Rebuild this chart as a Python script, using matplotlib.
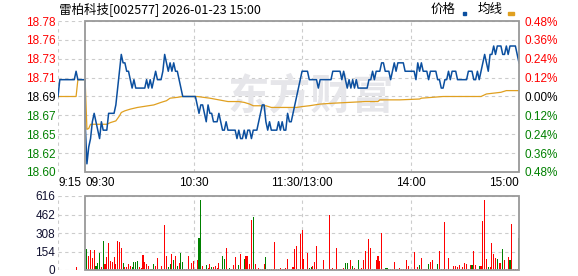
import matplotlib
matplotlib.use('Agg')
import matplotlib.pyplot as plt
from matplotlib.patches import Rectangle

plt.rcParams['font.family'] = ['Liberation Sans', 'DejaVu Sans']

prev_close = 18.69

# pre-market (9:15 - 9:30), minutes relative to 9:30
pre_t = [-15, -14, -6, -5, -4, 0]
pre_price = [18.69, 18.71, 18.71, 18.72, 18.71, 18.71]

# one price per minute, 9:30 (0) ... 15:00 (240)
price = [
    18.66, 18.61, 18.63, 18.64, 18.66, 18.67, 18.66, 18.65, 18.64, 18.66,
    18.65, 18.65, 18.65, 18.67, 18.67, 18.67, 18.67, 18.68, 18.70, 18.72,
    18.74, 18.73, 18.73, 18.72, 18.72, 18.71, 18.70, 18.71, 18.70, 18.70,
    18.70, 18.70, 18.70, 18.70, 18.71, 18.70, 18.71, 18.70, 18.71, 18.72,
    18.71, 18.71, 18.71, 18.72, 18.74, 18.73, 18.72, 18.73, 18.72, 18.73,
    18.72, 18.72, 18.71, 18.70, 18.69, 18.69, 18.69, 18.69, 18.69, 18.69,
    18.69, 18.69, 18.68, 18.67, 18.68, 18.68, 18.67, 18.66, 18.68, 18.67,
    18.67, 18.66, 18.66, 18.66, 18.67, 18.66, 18.65, 18.65, 18.66, 18.65,
    18.65, 18.65, 18.65, 18.65, 18.64, 18.65, 18.64, 18.64, 18.65, 18.64,
    18.65, 18.65, 18.64, 18.65, 18.65, 18.65, 18.66, 18.67, 18.68, 18.68,
    18.66, 18.65, 18.66, 18.65, 18.65, 18.65, 18.65, 18.66, 18.65, 18.66,
    18.65, 18.65, 18.67, 18.66, 18.66, 18.67, 18.68, 18.69, 18.70, 18.71,
    18.72, 18.72, 18.72, 18.72, 18.71, 18.71, 18.71, 18.71, 18.71, 18.70,
    18.71, 18.71, 18.71, 18.71, 18.71, 18.71, 18.71, 18.72, 18.72, 18.72,
    18.72, 18.72, 18.71, 18.72, 18.71, 18.70, 18.71, 18.70, 18.71, 18.70,
    18.71, 18.70, 18.70, 18.70, 18.70, 18.70, 18.70, 18.71, 18.71, 18.72,
    18.71, 18.72, 18.72, 18.72, 18.73, 18.73, 18.72, 18.72, 18.72, 18.71,
    18.72, 18.73, 18.72, 18.73, 18.73, 18.73, 18.73, 18.72, 18.72, 18.72,
    18.72, 18.72, 18.72, 18.71, 18.73, 18.72, 18.73, 18.72, 18.72, 18.72,
    18.71, 18.72, 18.72, 18.72, 18.72, 18.71, 18.71, 18.70, 18.70, 18.71,
    18.71, 18.72, 18.71, 18.72, 18.72, 18.72, 18.71, 18.71, 18.71, 18.71,
    18.71, 18.71, 18.72, 18.72, 18.72, 18.71, 18.71, 18.72, 18.71, 18.72,
    18.73, 18.74, 18.73, 18.72, 18.74, 18.74, 18.75, 18.74, 18.75, 18.75,
    18.75, 18.74, 18.74, 18.75, 18.74, 18.75, 18.75, 18.75, 18.75, 18.74,
    18.73,
]

# average price line, read at its turning points
avg_t = [-15, -5, -4, 0, 1, 2, 3, 12, 14, 17, 19, 20, 22, 25, 29, 35, 38, 42,
         45, 47, 51, 54, 62, 69, 74, 79, 85, 88, 91, 93, 100, 103, 117, 120,
         124, 130, 137, 146, 155, 162, 163, 174, 185, 186, 198, 219, 220, 222,
         226, 230, 233, 240]
avg_price = [18.69, 18.69, 18.71, 18.71, 18.651, 18.652, 18.657, 18.657,
             18.659, 18.661, 18.667, 18.671, 18.673, 18.675, 18.677, 18.679,
             18.680, 18.683, 18.685, 18.688, 18.689, 18.690, 18.690, 18.688,
             18.686, 18.684, 18.684, 18.683, 18.681, 18.679, 18.679, 18.677,
             18.677, 18.678, 18.679, 18.681, 18.682, 18.683, 18.684, 18.684,
             18.686, 18.686, 18.687, 18.688, 18.690, 18.690, 18.691, 18.693,
             18.694, 18.695, 18.697, 18.697]

# volume per minute, 9:31 (1) ... 15:00 (240), plus the 9:25 auction bar
auction_t = -5
auction_vol = 28
vol = [
    171, 114, 165, 103, 165, 37, 60, 145, 23, 242,
    46, 111, 222, 74, 66, 111, 51, 239, 231, 180,
    60, 28, 23, 51, 37, 28, 66, 66, 77, 28,
    17, 128, 68, 46, 37, 9, 9, 51, 37, 103,
    9, 37, 9, 376, 120, 28, 46, 137, 80, 120,
    34, 60, 145, 68, 9, 9, 120, 9, 60, 77,
    9, 85, 265, 581, 34, 9, 43, 17, 51, 26,
    26, 34, 17, 60, 9, 120, 94, 180, 9, 17,
    9, 43, 111, 9, 43, 137, 9, 94, 120, 120,
    51, 419, 445, 51, 9, 17, 9, 9, 51, 111,
    9, 9, 9, 9, 231, 9, 9, 17, 9, 9,
    17, 94, 9, 9, 26, 171, 197, 9, 299, 333,
    94, 9, 145, 17, 26, 34, 68, 197, 9, 9,
    9, 85, 9, 9, 462, 9, 17, 9, 180, 9,
    9, 9, 17, 60, 60, 9, 85, 34, 17, 9,
    85, 9, 17, 85, 162, 9, 256, 180, 9, 9,
    85, 120, 77, 308, 9, 17, 17, 9, 9, 9,
    68, 9, 9, 17, 9, 9, 9, 85, 34, 9,
    9, 154, 9, 26, 43, 103, 9, 9, 9, 51,
    68, 85, 9, 9, 51, 162, 9, 9, 402, 9,
    103, 9, 9, 34, 34, 26, 43, 9, 26, 60,
    51, 9, 43, 43, 162, 43, 9, 34, 34, 410,
    581, 94, 26, 26, 222, 137, 103, 94, 60, 60,
    171, 85, 9, 111, 85, 385, 9, 9, 9, 265,
]
vol_dir = ("grrrrgggrg" "rrrrrrrrrr" "grrrrggggr" "rrrrrgggrr" "grrrrggrgr"
           "grggrrrrrr" "rrggrggrrg" "rrrrrggrrg" "rrrrgrrgrr" "rrgrrrrgrg"
           "gggrrrrrrr" "rrrgrrrgrr" "rrrggrrrgg" "rrrrrrrrrr" "grrggrrgrr"
           "grrrrrrrrg" "rrrrrggggr" "rrgrrrrrrr" "rrrrgrrrrg" "rrrrgrggrr"
           "rrrrrrrrrr" "rrrgrrrgrr" "rrgrrrrgrr" "grrrgrrrrg")

time_ticks = [-15, 0, 60, 120, 180, 240]
time_labels = ['9:15', '09:30', '10:30', '11:30/13:00', '14:00', '15:00']
pct_steps = [-0.48, -0.36, -0.24, -0.12, 0.0, 0.12, 0.24, 0.36, 0.48]
vol_ticks = [0, 154, 308, 462, 616]

RED = '#ff0000'
GREEN = '#008000'
BLUE = '#0b4f9f'
GOLD = '#e0a020'
GRID = '#cccccc'
FRAME = '#999999'


def main():
    fig = plt.figure(figsize=(5.78, 2.76), dpi=100)
    ax = fig.add_axes([58 / 578, 104 / 276, 461 / 578, 151 / 276])
    axv = fig.add_axes([58 / 578, 6 / 276, 461 / 578, 74 / 276])

    price_ticks = [prev_close * (1 + p / 100) for p in pct_steps]
    ylo, yhi = price_ticks[0], price_ticks[-1]

    # ---- price panel
    ax.set_xlim(-15, 240)
    ax.set_ylim(ylo, yhi)
    for s in ax.spines.values():
        s.set_visible(False)
    for y in price_ticks:
        ax.axhline(y, color=GRID, lw=0.8, ls=(0, (3, 3)), zorder=1)
    for t in [-15, 60, 120, 180]:
        ax.axvline(t, color=GRID, lw=0.8, ls=(0, (3, 3)), zorder=1)
    ax.add_patch(Rectangle((0, ylo), 240, yhi - ylo, fill=False, ec=FRAME,
                           lw=1.3, zorder=6, clip_on=False))

    # faint watermark
    ax.text(125, prev_close, '东方财富', fontsize=30, color='#e6e6ea',
            ha='center', va='center', fontweight='bold',
            family=['Noto Sans CJK SC', 'DejaVu Sans'], zorder=1.5)

    ax.plot(avg_t, avg_price, color=GOLD, lw=0.9, zorder=3)
    ax.plot(pre_t, pre_price, color=BLUE, lw=1.1, zorder=4)
    ax.plot([0] + list(range(len(price))), [pre_price[-1]] + price,
            color=BLUE, lw=1.1, zorder=4)

    ax.set_yticks(price_ticks)
    ax.set_yticklabels(['%.2f' % v for v in price_ticks])
    ax.tick_params(axis='y', length=0, pad=2, labelsize=8.5)
    for lab, p in zip(ax.get_yticklabels(), pct_steps):
        lab.set_color(RED if p > 0 else (GREEN if p < 0 else 'black'))

    ax.set_xticks(time_ticks)
    ax.set_xticklabels(time_labels)
    ax.tick_params(axis='x', length=0, pad=3.5, labelsize=8.5)
    aligns = ['left', 'left', 'center', 'center', 'center', 'right']
    for lab, ha in zip(ax.get_xticklabels(), aligns):
        lab.set_ha(ha)

    ax2 = ax.twinx()
    ax2.set_ylim(ylo, yhi)
    for s in ax2.spines.values():
        s.set_visible(False)
    ax2.set_yticks(price_ticks)
    ax2.set_yticklabels(['%.2f%%' % abs(p) for p in pct_steps])
    ax2.tick_params(axis='y', length=0, pad=4, labelsize=8.5)
    for lab, p in zip(ax2.get_yticklabels(), pct_steps):
        lab.set_color(RED if p > 0 else (GREEN if p < 0 else 'black'))

    # ---- volume panel
    axv.set_xlim(-15, 240)
    axv.set_ylim(0, 616)
    for s in axv.spines.values():
        s.set_visible(False)
    for y in vol_ticks:
        axv.axhline(y, color=GRID, lw=0.8, ls=(0, (3, 3)), zorder=1)
    for t in [-15, 60, 120, 180]:
        axv.axvline(t, color=GRID, lw=0.8, ls=(0, (3, 3)), zorder=1)
    axv.add_patch(Rectangle((0, 0), 240, 616, fill=False, ec=FRAME,
                            lw=1.3, zorder=6, clip_on=False))

    minutes = list(range(1, len(vol) + 1))
    colors = [RED if c == 'r' else GREEN for c in vol_dir]
    axv.bar(minutes, vol, width=0.6, color=colors, zorder=3)
    axv.bar([auction_t], [auction_vol], width=0.6, color=RED, zorder=3)

    axv.set_yticks(vol_ticks)
    axv.set_yticklabels([str(v) for v in vol_ticks])
    axv.tick_params(axis='y', length=0, pad=2, labelsize=8.5, colors='#101030')
    axv.set_xticks([])

    # ---- title and legend
    cjk = ['Noto Sans CJK SC', 'DejaVu Sans']
    fig.text(59 / 578, 1 - 9 / 276, '雷柏科技[002577] 2026-01-23 15:00',
             fontsize=9, family=cjk, va='center', ha='left')
    fig.text(431 / 578, 1 - 9 / 276, '价格', fontsize=9, family=cjk,
             va='center', ha='left')
    fig.text(478 / 578, 1 - 9 / 276, '均线', fontsize=9, family=cjk,
             va='center', ha='left')
    fig.add_artist(Rectangle((463 / 578, 1 - 15 / 276), 3.5 / 578, 2.5 / 276,
                             transform=fig.transFigure, color=BLUE))
    fig.add_artist(Rectangle((508 / 578, 1 - 15 / 276), 6 / 578, 2.5 / 276,
                             transform=fig.transFigure, color=GOLD))

    fig.savefig('out.png', dpi=100)


if __name__ == "__main__":
    main()
